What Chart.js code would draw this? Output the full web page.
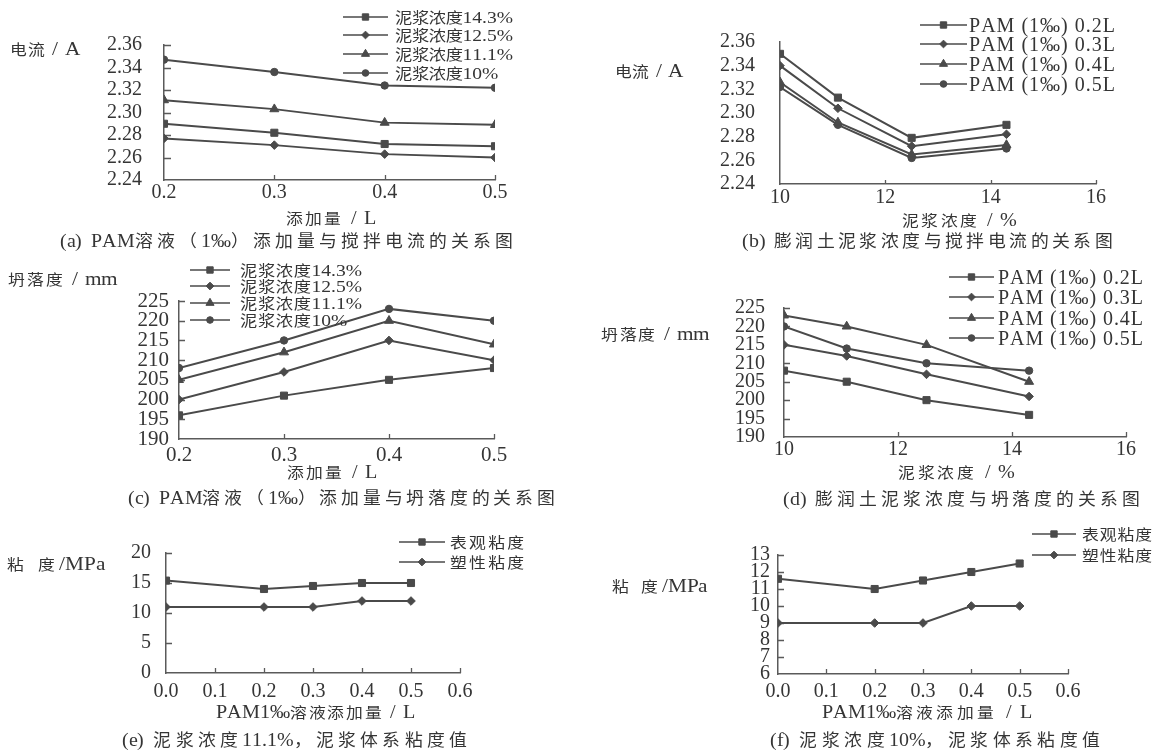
<!DOCTYPE html>
<html>
<head>
<meta charset="utf-8">
<script src="https://cdn.jsdelivr.net/npm/chart.js@4.4.1/dist/chart.umd.min.js"></script>
<style>
  html, body { margin: 0; padding: 0; background: #fff; }
  body { width: 1162px; height: 753px; position: relative; overflow: hidden; }
  canvas { position: absolute; }
  .t { position: absolute; white-space: pre; color: #353535; line-height: 1;
       font-family: "Liberation Serif", "Noto Sans CJK SC", serif; }
  .t span { display: inline-block; transform-origin: 0 50%; }
</style>
</head>
<body>
<script>
// ---------- data ----------
const additionL  = [0.2, 0.3, 0.4, 0.5];          // PAM (1‰) dose, L
const slurryConc = [10, 11.1, 12.5, 14.3];        // bentonite slurry concentration, %
const pamDoseL   = [0.0, 0.2, 0.3, 0.4, 0.5];     // PAM1‰ dose for viscosity tests, L

const slurryLabels = ['泥浆浓度14.3%', '泥浆浓度12.5%', '泥浆浓度11.1%', '泥浆浓度10%'];
const pamLabels    = ['PAM (1‰) 0.2L', 'PAM (1‰) 0.3L', 'PAM (1‰) 0.4L', 'PAM (1‰) 0.5L'];
const viscLabels   = ['表观粘度', '塑性粘度'];

// (a) stirring current vs PAM dose
const currentConc143 = [2.290, 2.282, 2.272, 2.270];
const currentConc125 = [2.277, 2.271, 2.263, 2.260];
const currentConc111 = [2.311, 2.303, 2.291, 2.289];
const currentConc100 = [2.347, 2.336, 2.324, 2.322];
// (b) stirring current vs slurry concentration
const currentPam02 = [2.350, 2.313, 2.279, 2.290];
const currentPam03 = [2.340, 2.304, 2.272, 2.282];
const currentPam04 = [2.326, 2.292, 2.265, 2.273];
const currentPam05 = [2.322, 2.290, 2.262, 2.270];
// (c) slump vs PAM dose
const slumpConc143 = [196, 201, 205, 208];
const slumpConc125 = [200, 207, 215, 210];
const slumpConc111 = [205, 212, 220, 214];
const slumpConc100 = [208, 215, 223, 220];
// (d) slump vs slurry concentration
const slumpPam02 = [208, 205, 200, 196];
const slumpPam03 = [215, 212, 207, 201];
const slumpPam04 = [223, 220, 215, 205];
const slumpPam05 = [220, 214, 210, 208];
// (e) viscosity, slurry 11.1%
const apparentVisc111 = [15.4, 14.0, 14.5, 15.0, 15.0];
const plasticVisc111  = [11, 11, 11, 12, 12];
// (f) viscosity, slurry 10%
const apparentVisc100 = [11.6, 11.0, 11.5, 12.0, 12.5];
const plasticVisc100  = [9, 9, 9, 10, 10];

// tick labels
const doseTicks    = [0.2, 0.3, 0.4, 0.5];
const concTicks    = [10, 12, 14, 16];
const pamTicks     = [0.0, 0.1, 0.2, 0.3, 0.4, 0.5, 0.6];
const currentTicks = [2.24, 2.26, 2.28, 2.30, 2.32, 2.34, 2.36];
const slumpTicks   = [190, 195, 200, 205, 210, 215, 220, 225];
const viscTicksE   = [0, 5, 10, 15, 20];
const viscTicksF   = [6, 7, 8, 9, 10, 11, 12, 13];

// ---------- styling ----------
const INK  = '#4a4a4a';
const AXIS = '#5a5a5a';
const TEXT = '#353535';
const SERIF = '"Liberation Serif", "Noto Sans CJK SC", serif';
const RADIUS = { rect: 5, rectRot: 4.3, triangle: 5.2, circle: 3.7 };

// ---------- text helpers ----------
// Chinese glyphs are set at `cjk` px and Latin at `lat` px, every glyph is
// widened by `k`; extra tracking goes after Chinese glyphs and spaces only
// (after every glyph for pure Latin strings).
function isWide(ch) { return ch.codePointAt(0) >= 0x2E80; }
function trackFlags(chars) {
  const hasWide = chars.some(isWide);
  return chars.map((c, i) => i < chars.length - 1 && (!hasWide || isWide(c) || c === ' '));
}

function measureRun(ctx, text, lat, cjk) {
  const chars = Array.from(text);
  const fonts = chars.map(c => `${isWide(c) ? cjk : lat}px ${SERIF}`);
  const widths = chars.map((c, i) => { ctx.font = fonts[i]; return ctx.measureText(c).width; });
  const flags = trackFlags(chars);
  return { chars, fonts, widths, flags,
           natural: widths.reduce((a, b) => a + b, 0),
           n: flags.filter(Boolean).length };
}

function drawRun(ctx, run, x0, yc, lat, k, s) {
  const base = yc + 0.35 * lat;
  ctx.textBaseline = 'alphabetic';
  ctx.textAlign = 'left';
  let x = x0;
  run.chars.forEach((c, i) => {
    ctx.save();
    ctx.font = run.fonts[i];
    ctx.translate(x, base);
    ctx.scale(k, 1);
    ctx.fillText(c, 0, 0);
    ctx.restore();
    x += run.widths[i] * k + (run.flags[i] ? s : 0);
  });
}

function placeText(text, x0, x1, yc, lat, cjk, k) {
  const el = document.createElement('div');
  el.className = 't';
  el.style.fontSize = lat + 'px';
  el.style.left = x0 + 'px';
  el.style.top = (yc - 0.4875 * lat) + 'px';
  const chars = Array.from(text);
  const spans = chars.map(c => {
    const sp = document.createElement('span');
    sp.textContent = c;
    if (isWide(c)) sp.style.fontSize = cjk + 'px';
    el.appendChild(sp);
    return sp;
  });
  document.body.appendChild(el);
  const widths = spans.map(sp => sp.getBoundingClientRect().width);
  const natural = widths.reduce((a, b) => a + b, 0);
  const flags = trackFlags(chars);
  const n = flags.filter(Boolean).length;
  const s = n ? (x1 - x0 - natural * k) / n : 0;
  spans.forEach((sp, i) => {
    sp.style.transform = `scaleX(${k})`;
    sp.style.marginRight = (widths[i] * (k - 1) + (flags[i] ? s : 0)).toFixed(2) + 'px';
  });
}

// ---------- plugins ----------
// short inward tick marks on both axes
const innerTicks = {
  id: 'innerTicks',
  beforeDatasetsDraw(chart, args, o) {
    const { ctx, chartArea: { left, bottom } } = chart;
    const xs = chart.scales.x, ys = chart.scales.y;
    ctx.save();
    ctx.strokeStyle = AXIS;
    ctx.lineWidth = 1.3;
    ctx.beginPath();
    if (o.y > 0) ys.ticks.forEach(t => {
      const y = Math.round(ys.getPixelForValue(t.value)) + 0.5;
      if (Math.abs(y - bottom) < 2) return;
      ctx.moveTo(left, y); ctx.lineTo(left + o.y, y);
    });
    if (o.x > 0) xs.ticks.forEach(t => {
      const x = Math.round(xs.getPixelForValue(t.value)) + 0.5;
      if (Math.abs(x - left) < 2) return;
      ctx.moveTo(x, bottom); ctx.lineTo(x, bottom - o.x);
    });
    ctx.stroke();
    ctx.restore();
  }
};

// legend: short line with the series marker, then the label;
// tracking is fitted on the first label and shared by the others
const swatchLegend = {
  id: 'swatchLegend',
  afterDraw(chart, args, o) {
    const ctx = chart.ctx;
    const [bx, by] = o.origin;
    const runs = chart.data.datasets.map(ds => measureRun(ctx, ds.label, o.size, o.cjk));
    const s = runs[0].n ? (o.tx1 - o.tx - runs[0].natural * o.k) / runs[0].n : 0;
    chart.data.datasets.forEach((ds, i) => {
      const y = o.rows[i] - by;
      ctx.save();
      ctx.strokeStyle = ds.borderColor;
      ctx.lineWidth = 1.5;
      ctx.beginPath();
      ctx.moveTo(o.x0 - bx, y); ctx.lineTo(o.x1 - bx, y);
      ctx.stroke();
      ctx.fillStyle = ds.backgroundColor;
      ctx.lineWidth = 1;
      Chart.helpers.drawPoint(ctx, { pointStyle: ds.pointStyle, radius: ds.pointRadius * 0.9, rotation: 0, borderWidth: 1 },
        (o.x0 + o.x1) / 2 - bx, y);
      ctx.fillStyle = TEXT;
      drawRun(ctx, runs[i], o.tx - bx, y, o.size, o.k, s);
      ctx.restore();
    });
  }
};

// ---------- panels ----------
const MARKERS4 = ['rect', 'rectRot', 'triangle', 'circle'];

const panels = [
  { box: [0, 0, 580, 250], plot: [164, 45, 495, 180],
    xs: additionL, xTicks: doseTicks, xDigits: 1, yTicks: currentTicks, yDigits: 2,
    labels: slurryLabels, values: [currentConc143, currentConc125, currentConc111, currentConc100], markers: MARKERS4,
    tickSize: 20, yPad: 22, xPad: 1, inner: { x: 5, y: 7 },
    legend: { x0: 343, x1: 388, tx: 395, tx1: 513, rows: [17, 35, 54, 73], size: 17, cjk: 15, k: 1.15 },
    yTitle: ['电流 / A', 10, 80, 48], xTitle: ['添加量 / L', 286, 376, 218],
    caption: ['(a) PAM溶液（1‰）添加量与搅拌电流的关系图', 60, 513, 240] },
  { box: [580, 0, 582, 250], plot: [780, 42, 1096, 184],
    xs: slurryConc, xTicks: concTicks, xDigits: 0, yTicks: currentTicks, yDigits: 2,
    labels: pamLabels, values: [currentPam02, currentPam03, currentPam04, currentPam05], markers: MARKERS4,
    tickSize: 20, yPad: 25, xPad: 2, inner: { x: 4, y: 0 },
    legend: { x0: 920, x1: 967, tx: 969, tx1: 1115, rows: [25, 44, 64, 84], size: 20, cjk: 18, k: 1.0 },
    yTitle: ['电流 / A', 615, 683, 70], xTitle: ['泥浆浓度 / %', 902, 1017, 220],
    caption: ['(b) 膨润土泥浆浓度与搅拌电流的关系图', 742, 1113, 240] },
  { box: [0, 250, 580, 260], plot: [179, 301, 494, 439],
    xs: additionL, xTicks: doseTicks, xDigits: 1, yTicks: slumpTicks, yDigits: 0,
    labels: slurryLabels, values: [slumpConc143, slumpConc125, slumpConc111, slumpConc100], markers: MARKERS4,
    tickSize: 21, yPad: 10, xPad: 4, inner: { x: 5, y: 6 },
    legend: { x0: 190, x1: 230, tx: 240, tx1: 362, rows: [270, 286, 303, 320], size: 17, cjk: 15, k: 1.15 },
    yTitle: ['坍落度 / mm', 8, 118, 278], xTitle: ['添加量 / L', 287, 377, 472],
    caption: ['(c) PAM溶液（1‰）添加量与坍落度的关系图', 128, 555, 497] },
  { box: [580, 250, 582, 260], plot: [784, 308, 1126, 437],
    xs: slurryConc, xTicks: concTicks, xDigits: 0, yTicks: slumpTicks, yDigits: 0,
    labels: pamLabels, values: [slumpPam02, slumpPam03, slumpPam04, slumpPam05], markers: MARKERS4,
    tickSize: 20, yPad: 19, xPad: 1, inner: { x: 5, y: 6 },
    legend: { x0: 949, x1: 994, tx: 998, tx1: 1143, rows: [277, 297, 318, 338], size: 20, cjk: 18, k: 1.0 },
    yTitle: ['坍落度 / mm', 601, 710, 333], xTitle: ['泥浆浓度 / %', 898, 1015, 472],
    caption: ['(d) 膨润土泥浆浓度与坍落度的关系图', 783, 1140, 498] },
  { box: [0, 510, 580, 243], plot: [166, 553, 460, 673],
    xs: pamDoseL, xTicks: pamTicks, xDigits: 1, yTicks: viscTicksE, yDigits: 0,
    labels: viscLabels, values: [apparentVisc111, plasticVisc111], markers: ['rect', 'rectRot'],
    tickSize: 20, yPad: 15, xPad: 7, inner: { x: 5, y: 6 },
    legend: { x0: 399, x1: 445, tx: 450, tx1: 524, rows: [542, 562], size: 17, cjk: 15, k: 1.12 },
    yTitle: ['粘 度/MPa', 7, 105, 563], xTitle: ['PAM1‰溶液添加量 / L', 216, 415, 712],
    caption: ['(e) 泥浆浓度11.1%，泥浆体系粘度值', 122, 467, 739] },
  { box: [580, 510, 582, 243], plot: [778, 555, 1068, 674],
    xs: pamDoseL, xTicks: pamTicks, xDigits: 1, yTicks: viscTicksF, yDigits: 0,
    labels: viscLabels, values: [apparentVisc100, plasticVisc100], markers: ['rect', 'rectRot'],
    tickSize: 20, yPad: 8, xPad: 6, inner: { x: 5, y: 6 },
    legend: { x0: 1032, x1: 1076, tx: 1082, tx1: 1152, rows: [534, 555], size: 17, cjk: 15, k: 1.12 },
    yTitle: ['粘 度/MPa', 612, 708, 585], xTitle: ['PAM1‰溶液添加量 / L', 822, 1032, 712],
    caption: ['(f) 泥浆浓度10%，泥浆体系粘度值', 770, 1100, 739] }
];

function axis(ticks, digits, size, pad, fitSide, fitSize) {
  return {
    type: 'linear',
    min: ticks[0], max: ticks[ticks.length - 1],
    afterBuildTicks: s => { s.ticks = ticks.map(v => ({ value: v })); },
    afterFit: s => { s[fitSide] = fitSize; },
    grid: { display: false, drawTicks: false },
    border: { display: true, color: AXIS, width: 1.5 },
    ticks: {
      autoSkip: false, maxRotation: 0, minRotation: 0, padding: pad, color: TEXT,
      font: { family: SERIF, size: size, lineHeight: 1.2 },
      callback: v => Number(v).toFixed(digits)
    }
  };
}

panels.forEach(p => {
  const [bx, by, bw, bh] = p.box;
  const [L, T, R, B] = p.plot;
  const cv = document.createElement('canvas');
  cv.width = bw; cv.height = bh;
  Object.assign(cv.style, { left: bx + 'px', top: by + 'px', width: bw + 'px', height: bh + 'px' });
  document.body.appendChild(cv);

  const datasets = p.values.map((vals, i) => ({
    label: p.labels[i],
    data: p.xs.map((x, j) => ({ x: x, y: vals[j] })),
    borderColor: INK, backgroundColor: INK, borderWidth: 2,
    pointStyle: p.markers[i], pointRadius: RADIUS[p.markers[i]], pointBorderWidth: 1,
    pointHoverRadius: RADIUS[p.markers[i]], tension: 0, fill: false
  }));

  new Chart(cv, {
    type: 'line',
    data: { datasets },
    options: {
      responsive: false, animation: false, devicePixelRatio: 1,
      events: [],
      layout: { padding: { left: 0, top: T - by, right: bx + bw - R, bottom: 0 } },
      plugins: {
        legend: { display: false }, tooltip: { enabled: false }, title: { display: false },
        innerTicks: p.inner,
        swatchLegend: Object.assign({ origin: [bx, by] }, p.legend)
      },
      scales: {
        x: axis(p.xTicks, p.xDigits, p.tickSize, p.xPad, 'height', by + bh - B),
        y: axis(p.yTicks, p.yDigits, p.tickSize, p.yPad, 'width', L - bx)
      }
    },
    plugins: [innerTicks, swatchLegend]
  });

  placeText(p.yTitle[0], p.yTitle[1], p.yTitle[2], p.yTitle[3], 19, 15, 1.12);
  placeText(p.xTitle[0], p.xTitle[1], p.xTitle[2], p.xTitle[3], 18, 15, 1.12);
  placeText(p.caption[0], p.caption[1], p.caption[2], p.caption[3], 19, 17, 1.05);
});
</script>
</body>
</html>
